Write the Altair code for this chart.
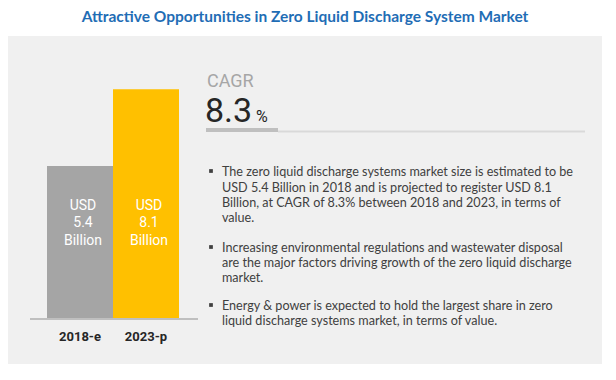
import altair as alt
import pandas as pd

# ---- data ----
categories = ["2018-e", "2023-p"]
values = [5.4, 8.1]
value_labels = ["5.4", "8.1"]
bar_colors = ["#a5a5a5", "#ffc000"]

title_text = "Attractive Opportunities in Zero Liquid Discharge System Market"
cagr_value = "8.3"

bullets = [
    ["The zero liquid discharge systems market size is estimated to be",
     "USD 5.4 Billion in 2018 and is projected to register USD 8.1",
     "Billion, at CAGR of 8.3% between 2018 and 2023, in terms of",
     "value."],
    ["Increasing environmental regulations and wastewater disposal",
     "are the major factors driving growth of the zero liquid discharge",
     "market."],
    ["Energy & power is expected to hold the largest share in zero",
     "liquid discharge systems market, in terms of value."],
]

df = pd.DataFrame({"cat": categories, "value": values, "vlabel": value_labels})

# plot origin is at page (8, 16)
OY = 16
def py(page_y):
    return page_y - OY

xs = alt.Scale(domain=categories, range=[39, 171], paddingInner=0, paddingOuter=0)
ys = alt.Scale(domain=[0, 10], range=[py(319), py(35.5)])
X = alt.X("cat:N", scale=xs, axis=None)

one = pd.DataFrame({"a": [0]})

layers = []

# background panel
layers.append(alt.Chart(one).mark_rect(color="#f0f0f0").encode(
    x=alt.value(-1), x2=alt.value(594), y=alt.value(py(36)), y2=alt.value(py(364))))

# title
layers.append(alt.Chart(one).mark_text(
    text=title_text, font="Lato", fontSize=15.5, fontWeight="bold", color="#1f6db5",
    align="center", baseline="alphabetic").encode(x=alt.value(297), y=alt.value(py(21.5))))

# bars
layers.append(alt.Chart(df).mark_bar().encode(
    x=X,
    y=alt.Y("value:Q", scale=ys, axis=None),
    color=alt.Color("cat:N", scale=alt.Scale(domain=categories, range=bar_colors), legend=None),
))

# axis line
layers.append(alt.Chart(one).mark_rule(color="#bfbfbf", strokeWidth=2).encode(
    x=alt.value(22), x2=alt.value(190), y=alt.value(py(319))))

# category labels
layers.append(alt.Chart(df).mark_text(
    font="Roboto", fontSize=13, fontWeight="bold", color="#262626", baseline="alphabetic").encode(
    x=X, y=alt.value(py(341)), text="cat:N"))

# bar value labels
lab_style = dict(font="Roboto", fontSize=14, color="white", baseline="alphabetic", dx=3)
layers.append(alt.Chart(df).mark_text(text="USD", **lab_style).encode(x=X, y=alt.value(py(210))))
layers.append(alt.Chart(df).mark_text(**lab_style).encode(x=X, y=alt.value(py(227)), text="vlabel:N"))
layers.append(alt.Chart(df).mark_text(text="Billion", **lab_style).encode(x=X, y=alt.value(py(245))))

# CAGR block
layers.append(alt.Chart(one).mark_text(
    text="CAGR", font="Roboto", fontSize=18, color="#a6a6a6", align="left", baseline="alphabetic").encode(
    x=alt.value(199), y=alt.value(py(87))))
layers.append(alt.Chart(one).mark_text(
    text=cagr_value, font="Roboto", fontSize=34, color="#262626", align="left", baseline="alphabetic").encode(
    x=alt.value(197), y=alt.value(py(122))))
layers.append(alt.Chart(one).mark_text(
    text="%", font="Roboto", fontSize=16, color="#262626", align="left", baseline="alphabetic").encode(
    x=alt.value(248), y=alt.value(py(122))))
layers.append(alt.Chart(one).mark_rule(color="#d9d9d9", strokeWidth=2).encode(
    x=alt.value(270), x2=alt.value(577), y=alt.value(py(131.5))))
layers.append(alt.Chart(one).mark_rule(color="#bfbfbf", strokeWidth=4).encode(
    x=alt.value(198), x2=alt.value(270), y=alt.value(py(130))))

# bullet text
line_ys = [[176, 192, 207, 222], [252, 267, 282], [310, 325]]
for para, ys_ in zip(bullets, line_ys):
    layers.append(alt.Chart(one).mark_square(color="#404040", size=14, opacity=1).encode(
        x=alt.value(203), y=alt.value(py(ys_[0] - 5))))
    for line, yy in zip(para, ys_):
        layers.append(alt.Chart(one).mark_text(
            text=line, font="Lato", fontSize=12.6, color="#404040", align="left",
            baseline="alphabetic").encode(x=alt.value(214), y=alt.value(py(yy))))

chart = alt.layer(*layers).properties(
    width=600, height=356, autosize=alt.AutoSizeParams(type="none"),
    padding={"top": 8, "left": 0, "right": 0, "bottom": 0},
    background="white",
).configure_view(strokeWidth=0)

chart.save("out.html", embed_options={"renderer": "svg", "actions": False})
